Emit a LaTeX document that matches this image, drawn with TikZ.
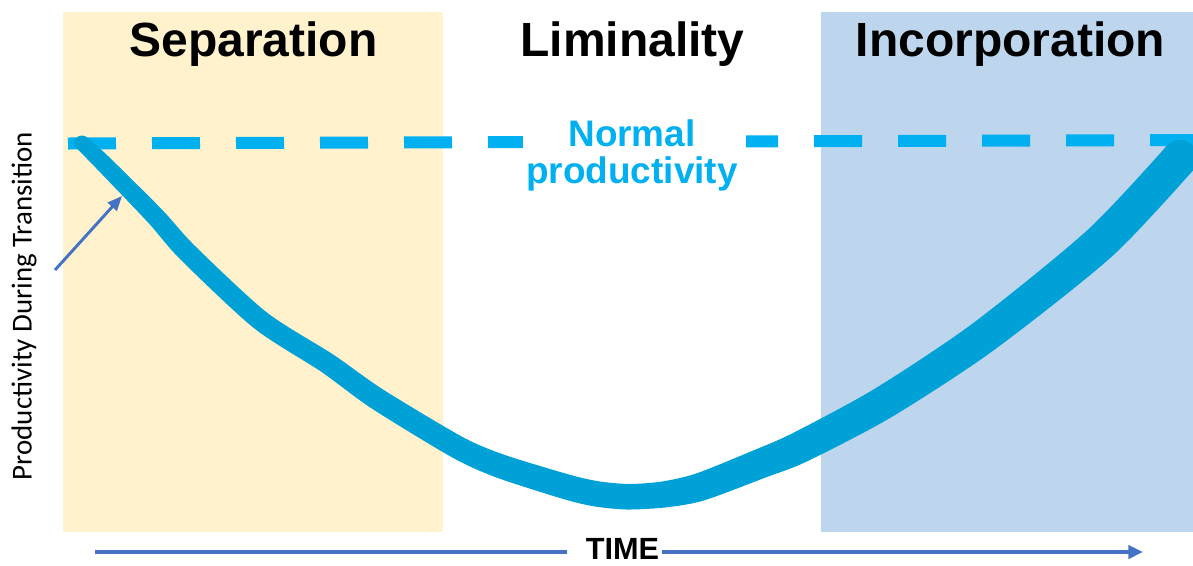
\documentclass[tikz,border=0pt]{standalone}
\usepackage{fontspec}
\setmainfont{Liberation Sans}
\newfontfamily\calibrifont{Carlito}
\usetikzlibrary{arrows.meta}
\usetikzlibrary{calc}

\definecolor{phaseyellow}{RGB}{255,242,204}
\definecolor{phaseblue}{RGB}{190,214,237}
\definecolor{normblue}{RGB}{0,176,240}
\definecolor{curveblue}{RGB}{0,161,214}
\definecolor{timeblue}{RGB}{68,114,196}

\tikzset{
  phasetitle/.style={anchor=base, inner sep=0.75pt, font=\fontsize{36}{40}\selectfont\bfseries},
  normline/.style={draw=normblue, line width=9pt, dash pattern=on 36pt off 27pt},
  timeline/.style={draw=timeblue, line width=2.6pt},
}

\begin{document}
\begin{tikzpicture}[x=0.75pt,y=0.75pt,yscale=-1,xscale=1]
\useasboundingbox (0,0) rectangle (1193,565);

%Shape: Rectangle [separation]
\fill [phaseyellow] (63,12) rectangle (443,532);
%Shape: Rectangle [incorporation]
\fill [phaseblue] (821,12) rectangle (1193,532);

% Text Node
\node (sep) at (253.5,56.7) [phasetitle] {Separation};
% Text Node
\node (lim) at (632.5,56.7) [phasetitle] {Liminality};
% Text Node
\node (inc) at (1010.5,56.7) [phasetitle] {Incorporation};

% Text Node
\node (normal) at (632,183.5) [anchor=base, inner sep=0.75pt, align=center, text=normblue, font=\fontsize{27.7}{27.75}\selectfont\bfseries] {Normal\\productivity};

%Dashed Lines
\coordinate (dashL) at (68,143.5);
\coordinate (dashR) at (1193,140);
\draw [normline] (dashL) -- ($(dashL)!0.4044!(dashR)$);
\draw [normline, dash phase=12pt] ($(dashL)!0.6027!(dashR)$) -- (dashR);

%Curve Lines [productivity]
\fill [curveblue] plot [smooth, tension=0.45] coordinates {(87.2,137.6) (108,156) (161.9,209.5) (195,246) (266.2,312) (332.8,354.3) (383,389.5) (462.4,436.9) (504.1,454.7) (570,474.8) (600,481.5) (630,484) (662,481.5) (696.5,473.4) (754.4,450) (793,433) (874.5,388.9) (972.9,323.3) (1087.9,229.7) (1166.9,145.7)}
  -- plot [smooth, tension=0.45] coordinates {(1193.1,170.3) (1112.1,256.3) (993.1,350.7) (891.5,417.1) (807,461.4) (765.6,477.5) (703.5,500.6) (665,507.5) (627,509.5) (595,506.5) (564,499.2) (495.9,477.3) (451.6,457.1) (371,408) (321.2,371.7) (253.8,328) (180,259) (148.1,222.5) (96,168) (76.8,148.4)} -- cycle;
\fill [curveblue] (82,143) circle [radius=7.5];
\fill [curveblue] (1180,158) circle [radius=18];

% Text Node
\node (ylabel) at (24,306) [rotate=90, inner sep=0.75pt, font=\calibrifont\fontsize{21.7}{24}\selectfont] {Productivity During Transition};

%Straight Lines [label arrow]
\coordinate (lblfoot) at (55,270);
\coordinate (lbltip) at (122,196);
\draw [timeblue, line width=2.2pt, -{Triangle[length=11pt,width=9pt]}] (lblfoot) -- (lbltip);

% Text Node
\node (time) at (622.5,559) [anchor=base, inner sep=0pt, font=\fontsize{23}{26}\selectfont\bfseries] {TIME};

%Straight Lines [time axis]
\coordinate (timeL) at (95,552);
\coordinate (timeR) at (1143,552);
\draw [timeline, shorten >=14pt] (timeL) -- (time.west |- timeL);
\draw [timeline, shorten <=2pt, -{Triangle[length=11pt,width=10pt]}] (time.east |- timeR) -- (timeR);

\end{tikzpicture}
\end{document}
